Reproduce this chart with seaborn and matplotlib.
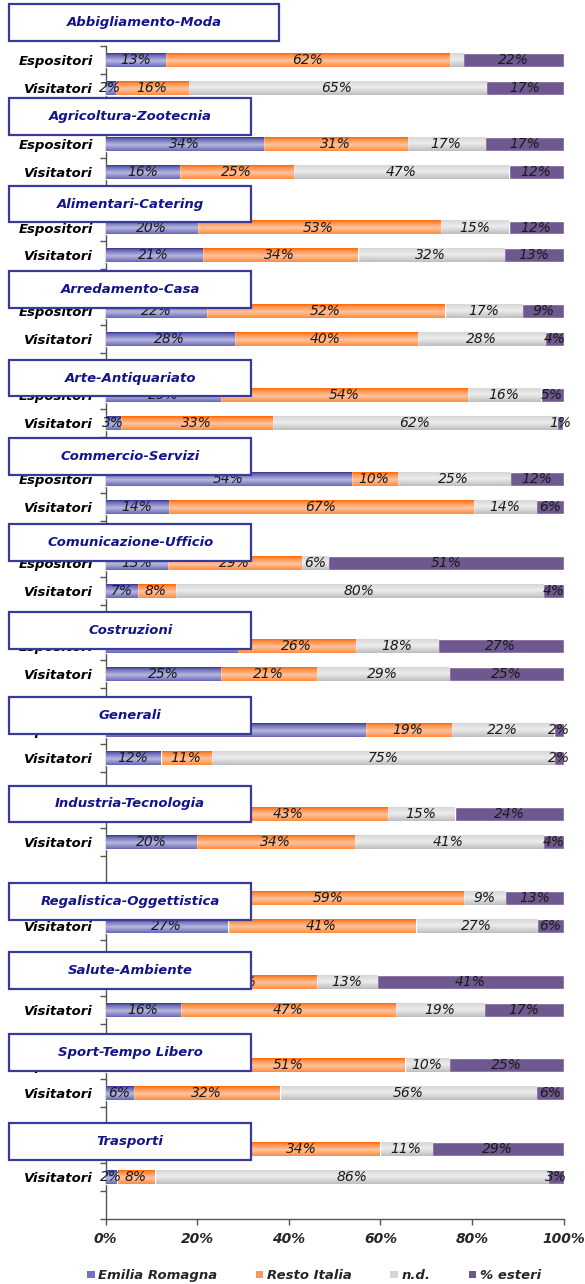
import numpy as np
import pandas as pd
import matplotlib
matplotlib.use("Agg")
import matplotlib.pyplot as plt
import seaborn as sns
from matplotlib.patches import Rectangle, Patch
from matplotlib.transforms import blended_transform_factory
from matplotlib.font_manager import FontProperties

# dati: quote % per settore (espositori / visitatori)
settori = ["Abbigliamento-Moda", "Agricoltura-Zootecnia", "Alimentari-Catering",
           "Arredamento-Casa", "Arte-Antiquariato", "Commercio-Servizi",
           "Comunicazione-Ufficio", "Costruzioni", "Generali",
           "Industria-Tecnologia", "Regalistica-Oggettistica", "Salute-Ambiente",
           "Sport-Tempo Libero", "Trasporti"]
serie = ["Emilia Romagna", "Resto Italia", "n.d.", "% esteri"]

esp_emilia = [13, 34.4, 20, 22, 25, 53.6, 13.4, 28.7, 56.7, 18.4, 19.1, 13.2, 14.3, 25.8]
esp_resto = [62, 31.4, 53, 52, 54, 10.1, 29.3, 25.7, 18.7, 43.0, 59.0, 32.7, 51.0, 34.0]
esp_nd = [3, 17.1, 15, 17, 16, 24.6, 5.9, 18.2, 22.4, 14.8, 9.2, 13.3, 9.7, 11.4]
esp_esteri = [22, 17.1, 12, 9, 5, 11.7, 51.4, 27.4, 2.2, 23.8, 12.7, 40.8, 25.0, 28.8]

vis_emilia = [2, 16, 21, 28, 3.1, 13.6, 6.8, 25, 12, 19.8, 26.6, 16.3, 6, 2.4]
vis_resto = [16, 25, 34, 40, 33.3, 66.6, 8.3, 21, 11, 34.4, 41.1, 46.9, 32, 8.3]
vis_nd = [65, 47, 32, 28, 62.1, 13.8, 80.5, 29, 75, 41.4, 26.6, 19.4, 56, 86.0]
vis_esteri = [17, 12, 13, 4, 1.4, 6.0, 4.4, 25, 2, 4.4, 5.7, 17.4, 6, 3.3]

# etichette non mostrate nel grafico originale
etichette_nascoste = {("Abbigliamento-Moda", "Espositori", "n.d.")}

# posizione verticale dei riquadri dei titoli (rispetto alla riga Espositori)
box_offset = [-1.34, -0.98, -0.84, -0.77, -0.61, -0.79, -0.73, -0.57,
              -0.54, -0.36, 0.13, -0.41, -0.45, -0.27]

colori = {
    "Emilia Romagna": ((0x33, 0x33, 0x99), (0xb8, 0xb8, 0xe0)),
    "Resto Italia": ((0xff, 0x66, 0x00), (0xff, 0xc4, 0xa0)),
    "n.d.": ((0xbe, 0xbe, 0xbe), (0xec, 0xec, 0xec)),
    "% esteri": ((0x6f, 0x58, 0x90), (0x6f, 0x58, 0x90)),
}

# tabella lunga
righe = []
for i, s in enumerate(settori):
    for gruppo, vals in [("Espositori", [esp_emilia, esp_resto, esp_nd, esp_esteri]),
                         ("Visitatori", [vis_emilia, vis_resto, vis_nd, vis_esteri])]:
        r = {"slot": f"{s}|{gruppo}", "settore": s, "gruppo": gruppo}
        for nome, v in zip(serie, vals):
            r[nome] = v[i]
        righe.append(r)
df = pd.DataFrame(righe)
cum = df[serie].cumsum(axis=1)

ordine = []
etichette_y = []
for s in settori:
    ordine += [f"{s}|Espositori", f"{s}|Visitatori", f"{s}|vuoto"]
    etichette_y += ["Espositori", "Visitatori", ""]
pos = {k: i for i, k in enumerate(ordine)}

sns.set_theme(style="white")
plt.rcParams["font.family"] = ["DejaVu Sans"]

fig = plt.figure(figsize=(5.85, 12.84), dpi=100)
ax = fig.add_axes([0.1807, 0.0506, 0.7827, 0.9136])

# barre cumulate (dalla piu' lunga alla piu' corta)
def gradiente(scuro, chiaro, n=40, grigio=False):
    t = np.linspace(0, 1, n)
    if grigio:
        f = np.interp(t, [0, 0.45, 1], [0.55, 1, 0.0])
    else:
        f = np.interp(t, [0, 0.12, 0.55, 1], [0, 0.35, 1, 0.4])
    a = np.array(scuro) / 255
    b = np.array(chiaro) / 255
    return (a[None, :] + (b - a)[None, :] * f[:, None])[:, None, :]

for k, nome in enumerate(reversed(serie)):
    tmp = pd.DataFrame({"slot": df["slot"], "val": cum[nome]})
    n_prima = len(ax.patches)
    sns.barplot(data=tmp, y="slot", x="val", order=ordine, orient="h",
                color="#%02x%02x%02x" % colori[nome][0], width=0.5,
                saturation=1, ax=ax, zorder=1 + k)
    if nome != "% esteri":
        img = gradiente(*colori[nome], grigio=(nome == "n.d."))
        for p in ax.patches[n_prima:]:
            x0, y0, w, h = p.get_x(), p.get_y(), p.get_width(), p.get_height()
            if not np.isfinite(w) or w == 0:
                continue
            ax.imshow(img, extent=(x0, x0 + w, y0 + h, y0), aspect="auto",
                      interpolation="bilinear", zorder=1.5 + k)

ax.set_xlim(0, 100)
ax.set_ylim(len(ordine) - 0.5, -0.5)

# etichette dei valori
for i, r in df.iterrows():
    y = pos[r["slot"]]
    sinistra = 0
    for nome in serie:
        v = r[nome]
        if (r["settore"], r["gruppo"], nome) not in etichette_nascoste:
            ax.text(sinistra + v / 2, y, f"{v:.0f}%", ha="center", va="center",
                    fontsize=10, style="italic", color="#1a1a1a", zorder=6,
                    clip_on=False)
        sinistra += v

# assi
ax.set_yticks(range(len(ordine)))
ax.set_yticklabels(etichette_y, fontsize=9.5, fontweight="bold", style="italic")
ax.set_yticks(np.arange(-0.5, len(ordine), 1), minor=True)
ax.tick_params(axis="y", which="major", length=0, pad=9, labelcolor="black")
ax.tick_params(axis="y", which="minor", length=4, width=1, color="#555555", direction="out", left=True)
ax.set_xticks(range(0, 101, 20))
ax.set_xticklabels([f"{x}%" for x in range(0, 101, 20)], fontsize=10,
                   fontweight="bold", style="italic")
ax.tick_params(axis="x", length=4, width=1, color="#555555", direction="out", pad=5, bottom=True)
ax.set_xlabel("")
ax.set_ylabel("")
for lato in ["top", "right"]:
    ax.spines[lato].set_visible(False)
for lato in ["left", "bottom"]:
    ax.spines[lato].set_color("#555555")
    ax.spines[lato].set_linewidth(1)

# riquadri con i nomi dei settori
trans = blended_transform_factory(fig.transFigure, ax.transData)
for i, s in enumerate(settori):
    yc = 3 * i + box_offset[i]
    x0 = 0.016
    x1 = 0.477 if i == 0 else 0.429
    h = 1.32
    ax.add_patch(Rectangle((x0, yc - h / 2), x1 - x0, h, transform=trans,
                           facecolor="white", edgecolor="#3a3a9a", linewidth=1.6,
                           clip_on=False, zorder=10))
    ax.text((x0 + x1) / 2, yc, s, transform=trans, ha="center", va="center",
            color="#14148a", fontsize=9.5, fontweight="bold", style="italic",
            zorder=11, clip_on=False)

# legenda
maniglie = [Patch(facecolor="#%02x%02x%02x" % tuple((np.array(colori[n][0]) + np.array(colori[n][1])) // 2),
                  edgecolor="none") for n in serie]
fig.legend(maniglie, serie, loc="center", bbox_to_anchor=(0.537, 0.0065), ncol=4,
           frameon=False, prop=FontProperties(weight="bold", style="italic", size=9.5),
           handlelength=0.55, handleheight=0.55, handletextpad=0.3, columnspacing=2.9)

fig.savefig("out.png", dpi=100)
